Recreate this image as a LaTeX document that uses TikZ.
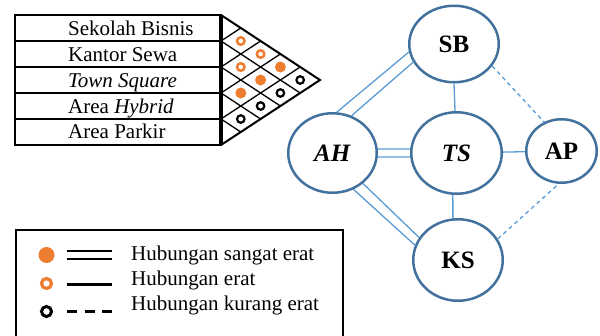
\documentclass[tikz,border=0pt]{standalone}
\usepackage{fontspec}
\setmainfont{Liberation Serif}
\usetikzlibrary{shapes.geometric}

\definecolor{nodeblue}{HTML}{41719C}
\definecolor{linkblue}{HTML}{5B9BD5}
\definecolor{dotorange}{HTML}{ED7D31}

\tikzset{
	ent/.style={ellipse,draw=nodeblue,line width=2.5pt,inner sep=0pt,font=\fontsize{25}{25}\selectfont\bfseries},
	link/.style={draw=linkblue,line width=1.3pt},
	weaklink/.style={link,dash pattern=on 4pt off 3.5pt},
	txt/.style={anchor=base west,inner sep=0pt,font=\fontsize{21}{25}\selectfont},
	sangat/.style={circle,fill=dotorange,minimum size=11pt,inner sep=0pt},
	erat/.style={circle,draw=dotorange,line width=2.5pt,minimum size=7.5pt,inner sep=0pt},
	kurang/.style={circle,draw=black,line width=2.2pt,minimum size=7.5pt,inner sep=0pt}
}

\begin{document}
\begin{tikzpicture}[x=1pt,y=-1pt]
	\useasboundingbox (0,0) rectangle (600,335);
	
	% tabel
	\draw[line width=2pt] (15,15) rectangle (221,145);
	\foreach \k in {1,...,4}
		\draw[line width=2pt] (15,15+26*\k) -- (221,15+26*\k);
	\node[txt] (r1) at (68,35) {Sekolah Bisnis};
	\node[txt] (r2) at (68,61.5) {Kantor Sewa};
	\node[txt] (r3) at (68,87) {\textit{Town Square}};
	\node[txt] (r4) at (68,113) {Area \textit{Hybrid}};
	\node[txt] (r5) at (68,138.5) {Area Parkir};
	
	% matriks
	\draw[line width=2pt,line join=miter] (221,15) -- (320,80) -- (221,145);
	\foreach \k in {1,...,4}{
		\draw[line width=1.3pt] (221,15+26*\k) -- ++(19.8*5-19.8*\k,65-13*\k);
		\draw[line width=1.3pt] (221,15+26*\k) -- ++(19.8*\k,-13*\k);
	}
	\draw[line width=3.5pt] (221,15) -- (221,145);
	\foreach \i/\j/\s in {1/2/erat,2/3/erat,3/4/sangat,4/5/kurang,1/3/erat,2/4/sangat,3/5/kurang,1/4/sangat,2/5/kurang,1/5/kurang}
		\node[\s] (c\i\j) at (221+19.8*\j-19.8*\i,2+13*\i+13*\j) {};
	
	% diagram
	\node[ent,minimum width=89.5pt,minimum height=76.5pt] (SB) at (454,44) {SB};
	\node[ent,minimum width=90.5pt,minimum height=81.5pt] (TS) at (456.5,153) {\textit{TS}};
	\node[ent,minimum width=88.5pt,minimum height=79.5pt] (AH) at (332.5,153) {\textit{AH}};
	\node[ent,minimum width=70.5pt,minimum height=63.5pt] (AP) at (561.5,151) {AP};
	\node[ent,minimum width=89.5pt,minimum height=81.5pt] (KS) at (458,260) {KS};
	
	\draw[link] (AH.84) -- (SB.190);
	\draw[link] (AH.63) -- (SB.204);
	\draw[link] (AH.5) -- (TS.175);
	\draw[link] (AH.355) -- (TS.185);
	\draw[link] (AH.300) -- (KS.161);
	\draw[link] (AH.315) -- (KS.150);
	\draw[link] (SB.270) -- (TS.92);
	\draw[link] (TS.265) -- (KS.97);
	\draw[link] (TS) -- (AP);
	\draw[weaklink] (SB.330) -- (AP.121);
	\draw[weaklink] (KS.28) -- (AP.265);
	
	% keterangan
	\draw[line width=1.3pt] (16,340) -- (16,230) -- (343,230) -- (343,340);
	\node[sangat,minimum size=16pt] (l1) at (46.5,255) {};
	\node[erat,line width=3.2pt,minimum size=10pt] (l2) at (46.5,283.5) {};
	\node[kurang,line width=3pt,minimum size=10pt] (l3) at (46.5,311.5) {};
	\draw[line width=2.8pt] (67,251) -- (112,251);
	\draw[line width=2.8pt] (67,259) -- (112,259);
	\draw[line width=2.8pt] (67,284.5) -- (112,284.5);
	\draw[line width=2.8pt,dash pattern=on 10pt off 7.5pt] (67,311.5) -- (112,311.5);
	\node[txt] (k1) at (131,260) {Hubungan sangat erat};
	\node[txt] (k2) at (131,285) {Hubungan erat};
	\node[txt] (k3) at (131,310) {Hubungan kurang erat};
\end{tikzpicture}
\end{document}
